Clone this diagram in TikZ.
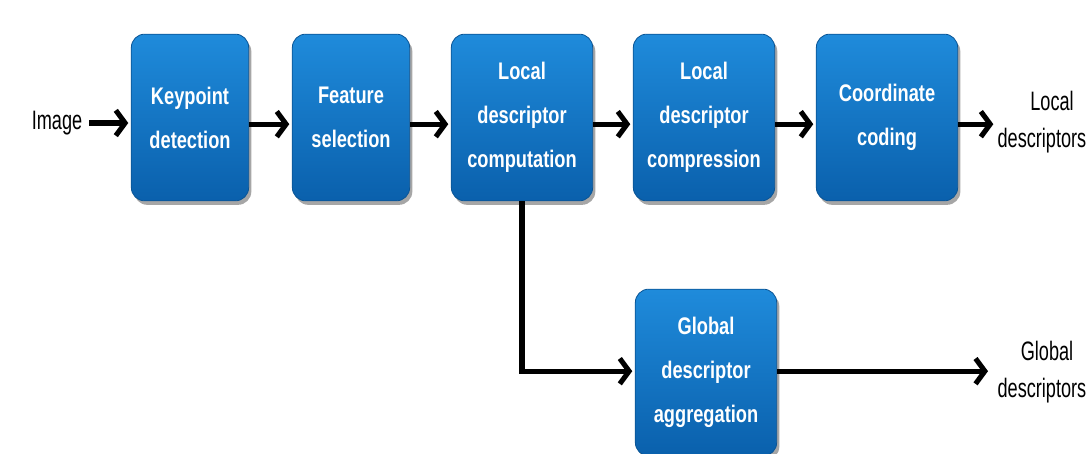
\documentclass[tikz,border=0pt]{standalone}
\usepackage{fontspec}
\setmainfont{Liberation Sans}
\newfontfamily\boxfont[FakeStretch=0.76]{Liberation Sans}
\newfontfamily\labfont[FakeStretch=0.68]{Liberation Sans}
\usetikzlibrary{arrows.meta,shadows,calc}
\definecolor{boxtop}{HTML}{1F8BDB}
\definecolor{boxbot}{HTML}{0A60AC}
\definecolor{boxedge}{HTML}{0A5596}
\tikzset{
  stage/.style={rounded corners=10pt, top color=boxtop, bottom color=boxbot, draw=boxedge, line width=0.6pt,
    minimum height=125pt, text=white, align=center, inner sep=0pt,
    font=\boxfont\bfseries\fontsize{18}{33}\selectfont,
    drop shadow={shadow xshift=2pt, shadow yshift=-3pt, opacity=0.35, fill=black}},
  narrow/.style={stage, minimum width=88pt},
  wide/.style={stage, minimum width=106pt},
  lab/.style={align=center, inner sep=1pt, font=\labfont\fontsize{20}{28}\selectfont},
  flow/.style={line width=3.8pt, -{Straight Barb[length=7pt,width=19pt]}, line join=miter}
}
\begin{document}
\begin{tikzpicture}[x=0.75pt,y=-0.75pt]
\useasboundingbox (0,0) rectangle (1087,453);
\clip (0,0) rectangle (1087,453);
\node[lab] (img) at (57,123) {Image};
\node[narrow] (kp) at (190,117.5) {Keypoint\\detection};
\node[narrow] (fs) at (351,117.5) {Feature\\selection};
\node[wide] (lc) at (522,117.5) {Local\\descriptor\\computation};
\node[wide] (lp) at (704,117.5) {Local\\descriptor\\compression};
\node[wide] (cc) at (887,117.5) {Coordinate\\coding};
\node[wide] (gl) at (706,372.5) {Global\\descriptor\\aggregation};
\node[lab, anchor=west] (ld) at (996,122) {\hphantom{de}Local\\descriptors};
\node[lab, anchor=west] (gd) at (996,372) {\hphantom{d}Global\\descriptors};
\draw[flow] ([xshift=4pt]img.east) -- ([xshift=-2pt]img.east -| kp.west);
\draw[flow] ([yshift=-5pt]kp.east) -- ([yshift=-5pt,xshift=-2pt]fs.west);
\draw[flow] ([yshift=-5pt]fs.east) -- ([yshift=-5pt,xshift=-2pt]lc.west);
\draw[flow] ([yshift=-5pt]lc.east) -- ([yshift=-5pt,xshift=-2pt]lp.west);
\draw[flow] ([yshift=-5pt]lp.east) -- ([yshift=-5pt,xshift=-2pt]cc.west);
\draw[flow] ([yshift=-5pt]cc.east) -- ([yshift=-5pt,xshift=-2pt]cc.east -| ld.west);
\draw[flow] (lc.south) |- ([xshift=-2pt,yshift=1pt]gl.west);
\draw[flow] ([yshift=1pt]gl.east) -- ([xshift=-6pt,yshift=1pt]gl.east -| gd.west);
\end{tikzpicture}
\end{document}
